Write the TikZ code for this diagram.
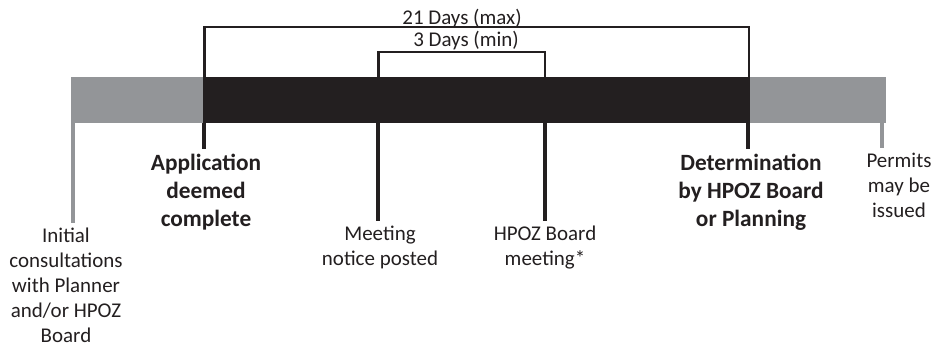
\documentclass[tikz,border=0pt]{standalone}
\usepackage{fontspec}
\setmainfont{Carlito}
\usetikzlibrary{positioning}
\definecolor{bargray}{HTML}{939598}
\definecolor{barblack}{HTML}{231F20}

\begin{document}
\begin{tikzpicture}[x=0.03cm, y=-0.03cm,
  lbl/.style={align=center, inner sep=0pt, anchor=north, text=barblack,
    font=\fontsize{17.9}{21.3}\selectfont},
  keylbl/.style={lbl, font=\fontsize{19.9}{23.9}\selectfont\bfseries},
  tick/.style={line width=3.4pt, barblack, shorten >=4pt},
  graytick/.style={tick, bargray},
  span/.style={line width=2.5pt, barblack}]
  \useasboundingbox (0,0) rectangle (934,350);

  % --- Timeline bar ---
  \fill[bargray] (71,77) rectangle (886,123);
  \fill[barblack] (203,77) rectangle (750,123);

  % --- Points on the bar ---
  \coordinate (initbot) at (73,123);
  \coordinate (appbot) at (204,123);
  \coordinate (noticebot) at (378,123);
  \coordinate (meetbot) at (545,123);
  \coordinate (detbot) at (748,123);
  \coordinate (permbot) at (882,123);
  \coordinate (apptop) at (204.5,77);
  \coordinate (noticetop) at (378.5,77);
  \coordinate (meettop) at (545,77);
  \coordinate (dettop) at (749,77);
  \coordinate (maxlevel) at (0,27);
  \coordinate (minlevel) at (0,52);

  % --- Labels under the bar ---
  \node[lbl] (init) at (66,228) {Initial\\consultations\\with Planner\\and/or HPOZ\\Board};
  \node[keylbl] (app) at (206,154) {Application\\deemed\\complete};
  \node[lbl] (notice) at (380,226) {Meeting\\notice posted};
  \node[lbl] (meet) at (545,226) {HPOZ Board\\meeting*};
  \node[keylbl] (det) at (751,154) {Determination\\by HPOZ Board\\or Planning};
  \node[lbl] (perm) at (899,153) {Permits\\may be\\issued};

  % ticks down to the labels
  \draw[graytick] (initbot) -- (initbot |- init.north);
  \draw[tick] (appbot) -- (appbot |- app.north);
  \draw[tick] (noticebot) -- (noticebot |- notice.north);
  \draw[tick] (meetbot) -- (meetbot |- meet.north);
  \draw[tick] (detbot) -- (detbot |- det.north);
  \draw[graytick] (permbot) -- (permbot |- perm.north);

  % --- Spans above the bar ---
  \node[lbl] (maxdays) at (462,9) {21 Days (max)};
  \node[lbl] (mindays) at (466,31) {3 Days (min)};
  \draw[span] (apptop) -- (apptop |- maxlevel) -- (dettop |- maxlevel) -- (dettop);
  \draw[span] (noticetop) -- (noticetop |- minlevel) -- (meettop |- minlevel) -- (meettop);
\end{tikzpicture}
\end{document}
